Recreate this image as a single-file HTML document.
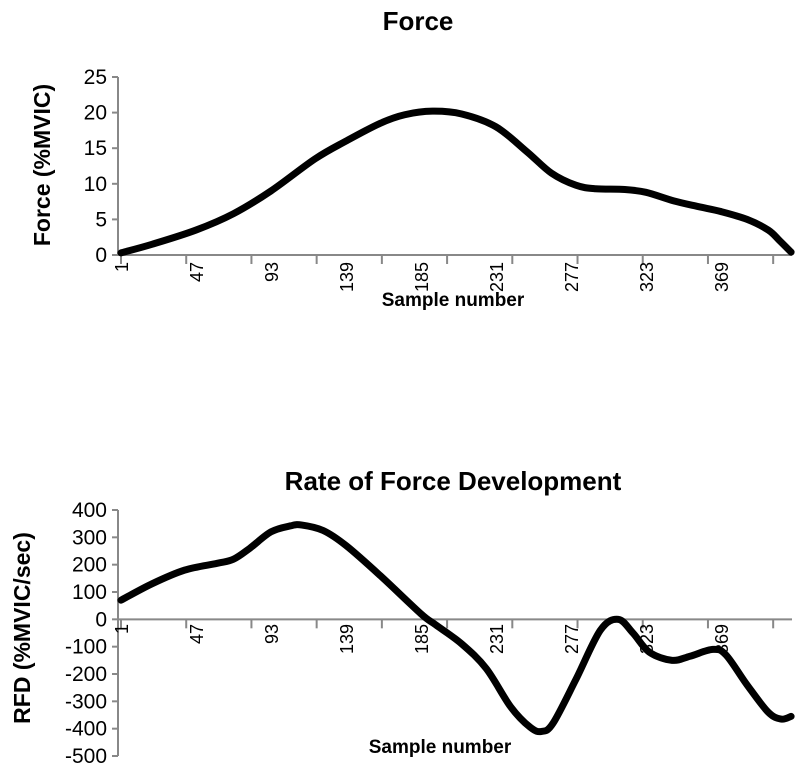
<!DOCTYPE html>
<html><head><meta charset="utf-8"><style>
html,body{margin:0;padding:0;background:#fff;width:800px;height:773px;overflow:hidden}
text{font-family:"Liberation Sans Narrow","Liberation Sans",sans-serif}
</style></head><body>
<svg id="svg" width="800" height="773" viewBox="0 0 800 773">
<text x="418" y="30" text-anchor="middle" font-size="26" font-weight="bold">Force</text>
<text transform="translate(50,165) rotate(-90)" text-anchor="middle" font-size="23" font-weight="bold">Force (%MVIC)</text>
<text x="453" y="306" text-anchor="middle" font-size="19" font-weight="bold">Sample number</text>
<text x="453" y="490" text-anchor="middle" font-size="26" font-weight="bold">Rate of Force Development</text>
<text transform="translate(30,628) rotate(-90)" text-anchor="middle" font-size="23" font-weight="bold">RFD (%MVIC/sec)</text>
<text x="440" y="753" text-anchor="middle" font-size="19" font-weight="bold">Sample number</text>
<g id="g1"></g>
<g id="g2"></g>
</svg>
<script>
const forceS=[1,20,47,70,93,120,139,160,175,192,210,231,250,265,280,292,310,323,340,355,369,385,398,405,412];
const forceV=[0.3,1.5,3.5,5.8,9,13.5,16,18.5,19.7,20.2,19.8,18,14.5,11.5,9.8,9.3,9.2,8.8,7.6,6.8,6.1,5,3.5,2,0.4];
const forceTicks=[0,5,10,15,20,25];
const rfdS=[1,20,40,60,70,80,93,105,112,125,139,160,185,194,210,225,240,252,259,266,280,295,306,315,325,339,350,364,372,385,398,406,412];
const rfdV=[70,130,180,205,220,260,320,342,345,325,270,160,20,-20,-90,-180,-320,-395,-410,-380,-220,-40,0,-50,-120,-150,-135,-110,-130,-240,-340,-365,-355];
const rfdTicks=[400,300,200,100,0,-100,-200,-300,-400,-500];
const xLabels=[1,47,93,139,185,231,277,323,369];
const NS="http://www.w3.org/2000/svg";
const X0=121,PX=75/46;
function sx(s){return X0+(s-1)*PX;}
function mk(tag,attrs,parent){const e=document.createElementNS(NS,tag);for(const k in attrs)e.setAttribute(k,attrs[k]);parent.appendChild(e);return e;}
function smooth(pts){let d="M"+pts[0][0]+","+pts[0][1];for(let i=0;i<pts.length-1;i++){const p0=pts[Math.max(0,i-1)],p1=pts[i],p2=pts[i+1],p3=pts[Math.min(pts.length-1,i+2)];const c1x=p1[0]+(p2[0]-p0[0])/6,c1y=p1[1]+(p2[1]-p0[1])/6,c2x=p2[0]-(p3[0]-p1[0])/6,c2y=p2[1]-(p3[1]-p1[1])/6;d+=" C"+c1x+","+c1y+" "+c2x+","+c2y+" "+p2[0]+","+p2[1];}return d;}
function chart(g,ticks,vmin,vmax,ytop,ybot,xAxisV,S,V,labY){
  const sy=v=>ybot-(v-vmin)/(vmax-vmin)*(ybot-ytop);
  const ya=mk('line',{x1:X0-3,x2:X0-3,y1:ytop,y2:ybot,stroke:'#888','stroke-width':2},g);
  
  ticks.forEach(t=>{const tk=mk('line',{x1:X0-9,x2:X0-3,y1:sy(t),y2:sy(t),stroke:'#888','stroke-width':2},g);
    
    const tl=mk('text',{x:X0-14,y:sy(t)+7,'text-anchor':'end','font-size':21},g);tl.textContent=t;
    });
  const ay=sy(xAxisV);
  const xa=mk('line',{x1:X0-3,x2:792,y1:ay,y2:ay,stroke:'#888','stroke-width':2},g);
  
  for(let s=1;s<=412;s+=40){const tk=mk('line',{x1:sx(s),x2:sx(s),y1:ay,y2:ay+9,stroke:'#888','stroke-width':2},g);
    }
  xLabels.forEach(l=>{const tl=mk('text',{transform:`translate(${sx(l)+7},${labY}) rotate(-90)`,'text-anchor':'end','font-size':18},g);tl.textContent=l;
    });
  const pts=S.map((s,i)=>[sx(s),sy(V[i])]);
  const p=mk('path',{d:smooth(pts),fill:'none',stroke:'#000','stroke-width':7,'stroke-linejoin':'round','stroke-linecap':'round'},g);
  
}
chart(document.getElementById('g1'),forceTicks,0,25,77,255,0,forceS,forceV,262);
chart(document.getElementById('g2'),rfdTicks,-500,400,510,756,0,rfdS,rfdV,624);
</script>
</body></html>
